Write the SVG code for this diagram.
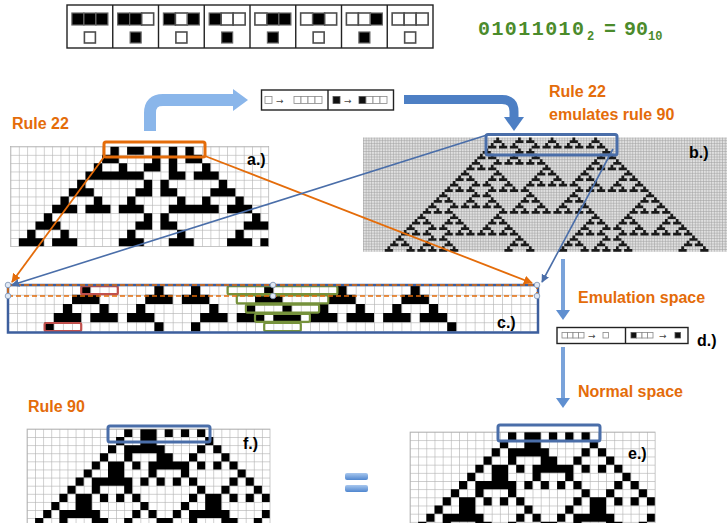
<svg xmlns="http://www.w3.org/2000/svg" width="727" height="523" viewBox="0 0 727 523">
<style>
.lbl{font-family:"Liberation Sans",Arial,sans-serif;font-weight:bold;font-size:16px;fill:#000}
.or{font-family:"Liberation Sans",Arial,sans-serif;font-weight:bold;font-size:16px;fill:#e46c0a}
.bin{font-family:"Liberation Mono","Courier New",monospace;font-weight:bold;fill:#4b8b2b}
.sw{fill:#fff;stroke:#4d4d4d;stroke-width:1.6}
.sb{fill:#000;stroke:#666;stroke-width:1.2}
.ms{fill:#fff;stroke:#888;stroke-width:.8}
.mk{fill:#111;stroke:#555;stroke-width:.8}
.arr{font-family:"DejaVu Sans",sans-serif;font-size:9px;fill:#444}
.frame{fill:#fff;stroke:#222;stroke-width:1.4}
.cell{fill:#000}
.gl{fill:none;stroke:#b3b3b3;stroke-width:.7}
.bbox{fill:none;stroke:#4a6ea9;stroke-width:3}
.grn{fill:none;stroke:#76923c;stroke-width:2.2}
.red{fill:none;stroke:#c0504d;stroke-width:2.2}
.hd{fill:#dfe8f5;stroke:#7a8fb0;stroke-width:.8}
</style>
<defs>
<pattern id="pa" patternUnits="userSpaceOnUse" x="10.5" y="146.5" width="8.33" height="8.33"><rect width="8.33" height="8.33" fill="#fff"/><path d="M0 .35H8.33M.35 0V8.33" stroke="#b3b3b3" stroke-width=".7"/></pattern>
<pattern id="pb" patternUnits="userSpaceOnUse" x="363" y="137.5" width="2.72" height="2.72"><rect width="2.72" height="2.72" fill="#e0e0e0"/><path d="M0 .3H2.72M.3 0V2.72" stroke="#a0a0a0" stroke-width=".6"/></pattern>
<pattern id="pc" patternUnits="userSpaceOnUse" x="8" y="285.5" width="9.15" height="9.2"><rect width="9.15" height="9.2" fill="#fff"/><path d="M0 .35H9.15M.35 0V9.2" stroke="#b3b3b3" stroke-width=".7"/></pattern>
<pattern id="pf" patternUnits="userSpaceOnUse" x="27" y="429" width="8.1" height="8.1"><rect width="8.1" height="8.1" fill="#fff"/><path d="M0 .35H8.1M.35 0V8.1" stroke="#b3b3b3" stroke-width=".7"/></pattern>
<pattern id="pe" patternUnits="userSpaceOnUse" x="410" y="432" width="8.17" height="8.17"><rect width="8.17" height="8.17" fill="#fff"/><path d="M0 .35H8.17M.35 0V8.17" stroke="#b3b3b3" stroke-width=".7"/></pattern>
<path id="g" d="M0 0h1v1h1v1h-3v-1h1z"/>
<path id="r90" d="M12 0h1v1h-1zM14 0h2v1h-2zM17 0h1v1h-1zM19 0h1v1h-1zM21 0h1v1h-1zM11 1h1v1h-1zM14 1h2v1h-2zM22 1h1v1h-1zM10 2h1v1h-1zM12 2h5v1h-5zM21 2h1v1h-1zM23 2h1v1h-1zM9 3h1v1h-1zM12 3h1v1h-1zM16 3h2v1h-2zM20 3h1v1h-1zM24 3h1v1h-1zM8 4h1v1h-1zM10 4h2v1h-2zM13 4h1v1h-1zM15 4h5v1h-5zM21 4h1v1h-1zM23 4h1v1h-1zM25 4h1v1h-1zM7 5h1v1h-1zM10 5h2v1h-2zM15 5h1v1h-1zM19 5h1v1h-1zM26 5h1v1h-1zM6 6h1v1h-1zM8 6h5v1h-5zM14 6h1v1h-1zM16 6h1v1h-1zM18 6h1v1h-1zM20 6h1v1h-1zM25 6h1v1h-1zM27 6h1v1h-1zM5 7h1v1h-1zM8 7h1v1h-1zM12 7h1v1h-1zM21 7h1v1h-1zM24 7h1v1h-1zM28 7h1v1h-1zM4 8h1v1h-1zM6 8h2v1h-2zM9 8h1v1h-1zM11 8h1v1h-1zM13 8h1v1h-1zM20 8h1v1h-1zM22 8h2v1h-2zM25 8h1v1h-1zM27 8h1v1h-1zM29 8h1v1h-1zM3 9h1v1h-1zM6 9h2v1h-2zM14 9h1v1h-1zM19 9h1v1h-1zM22 9h2v1h-2zM2 10h1v1h-1zM4 10h5v1h-5zM13 10h1v1h-1zM15 10h1v1h-1zM18 10h1v1h-1zM20 10h5v1h-5zM29 10h1v1h-1zM1 11h1v1h-1zM4 11h1v1h-1zM8 11h2v1h-2zM12 11h1v1h-1zM16 11h2v1h-2zM20 11h1v1h-1zM24 11h2v1h-2zM28 11h1v1h-1z"/>
<marker id="mo" viewBox="0 0 10 10" refX="9" refY="5" markerWidth="5" markerHeight="5" orient="auto"><path d="M0 0L10 5L0 10z" fill="#e46c0a"/></marker>
<marker id="mb" viewBox="0 0 10 10" refX="9" refY="5" markerWidth="5" markerHeight="5" orient="auto"><path d="M0 0L10 5L0 10z" fill="#4a6ea9"/></marker>
<linearGradient id="eqg" x1="0" y1="0" x2="0" y2="1"><stop offset="0" stop-color="#a8c7ee"/><stop offset="1" stop-color="#4f86cf"/></linearGradient>
</defs>

<g id="rule-table">
<rect class="frame" x="67" y="5" width="366" height="43"/>
<path d="M112.75 5V48M158.5 5V48M204.25 5V48M250 5V48M295.75 5V48M341.5 5V48M387.25 5V48" stroke="#222" stroke-width="1.4"/>
<g transform="translate(67,0)"><rect class="sb" x="4.9" y="13" width="12" height="12"/><rect class="sb" x="16.9" y="13" width="12" height="12"/><rect class="sb" x="28.9" y="13" width="12" height="12"/><rect class="sw" x="17.4" y="32" width="11" height="11"/></g>
<g transform="translate(112.75,0)"><rect class="sb" x="4.9" y="13" width="12" height="12"/><rect class="sb" x="16.9" y="13" width="12" height="12"/><rect class="sw" x="28.9" y="13" width="12" height="12"/><rect class="sb" x="17.4" y="32" width="11" height="11"/></g>
<g transform="translate(158.5,0)"><rect class="sb" x="4.9" y="13" width="12" height="12"/><rect class="sw" x="16.9" y="13" width="12" height="12"/><rect class="sb" x="28.9" y="13" width="12" height="12"/><rect class="sw" x="17.4" y="32" width="11" height="11"/></g>
<g transform="translate(204.25,0)"><rect class="sb" x="4.9" y="13" width="12" height="12"/><rect class="sw" x="16.9" y="13" width="12" height="12"/><rect class="sw" x="28.9" y="13" width="12" height="12"/><rect class="sb" x="17.4" y="32" width="11" height="11"/></g>
<g transform="translate(250,0)"><rect class="sw" x="4.9" y="13" width="12" height="12"/><rect class="sb" x="16.9" y="13" width="12" height="12"/><rect class="sb" x="28.9" y="13" width="12" height="12"/><rect class="sb" x="17.4" y="32" width="11" height="11"/></g>
<g transform="translate(295.75,0)"><rect class="sw" x="4.9" y="13" width="12" height="12"/><rect class="sb" x="16.9" y="13" width="12" height="12"/><rect class="sw" x="28.9" y="13" width="12" height="12"/><rect class="sw" x="17.4" y="32" width="11" height="11"/></g>
<g transform="translate(341.5,0)"><rect class="sw" x="4.9" y="13" width="12" height="12"/><rect class="sw" x="16.9" y="13" width="12" height="12"/><rect class="sb" x="28.9" y="13" width="12" height="12"/><rect class="sb" x="17.4" y="32" width="11" height="11"/></g>
<g transform="translate(387.25,0)"><rect class="sw" x="4.9" y="13" width="12" height="12"/><rect class="sw" x="16.9" y="13" width="12" height="12"/><rect class="sw" x="28.9" y="13" width="12" height="12"/><rect class="sw" x="17.4" y="32" width="11" height="11"/></g>
</g>

<g id="binary-label">
<text class="bin" x="478" y="35" font-size="20" textLength="106" lengthAdjust="spacing">01011010</text>
<text class="bin" x="587" y="40" font-size="12">2</text>
<text class="bin" x="604" y="35" font-size="20">=</text>
<text class="bin" x="624" y="35" font-size="20">90</text>
<text class="bin" x="648" y="40" font-size="12">10</text>
</g>

<g id="titles">
<text class="or" x="12" y="129">Rule 22</text>
<text class="or" x="549" y="97">Rule 22</text>
<text class="or" x="549" y="120">emulates rule 90</text>
<text class="or" x="28" y="412">Rule 90</text>
<text class="or" x="578" y="303">Emulation space</text>
<text class="or" x="578" y="397">Normal space</text>
</g>

<g id="grid-a">
<rect x="10.5" y="146.5" width="258.23" height="99.96" fill="url(#pa)"/>
<path transform="translate(10.5,146.5) scale(8.33)" class="cell" d="M12 0h1v1h-1zM14 0h2v1h-2zM17 0h1v1h-1zM19 0h1v1h-1zM21 0h1v1h-1zM11 1h2v1h-2zM17 1h1v1h-1zM19 1h1v1h-1zM21 1h2v1h-2zM10 2h1v1h-1zM13 2h1v1h-1zM16 2h2v1h-2zM19 2h1v1h-1zM23 2h1v1h-1zM9 3h7v1h-7zM19 3h2v1h-2zM22 3h3v1h-3zM8 4h1v1h-1zM16 4h1v1h-1zM18 4h1v1h-1zM25 4h1v1h-1zM7 5h3v1h-3zM15 5h2v1h-2zM18 5h2v1h-2zM24 5h3v1h-3zM6 6h1v1h-1zM10 6h1v1h-1zM14 6h1v1h-1zM20 6h1v1h-1zM23 6h1v1h-1zM27 6h1v1h-1zM5 7h3v1h-3zM9 7h3v1h-3zM13 7h3v1h-3zM19 7h6v1h-6zM26 7h3v1h-3zM4 8h1v1h-1zM16 8h1v1h-1zM18 8h1v1h-1zM29 8h1v1h-1zM3 9h3v1h-3zM15 9h2v1h-2zM18 9h2v1h-2zM28 9h3v1h-3zM2 10h1v1h-1zM6 10h1v1h-1zM14 10h1v1h-1zM20 10h1v1h-1zM27 10h1v1h-1zM1 11h3v1h-3zM5 11h3v1h-3zM13 11h3v1h-3zM19 11h3v1h-3zM26 11h3v1h-3zM30 11h1v1h-1z"/>
<rect class="gl" x="10.5" y="146.5" width="258.23" height="99.96"/>
<rect x="104" y="142" width="101" height="15" rx="2" fill="none" stroke="#e46c0a" stroke-width="3"/>
<text class="lbl" x="247" y="165">a.)</text>
</g>

<g id="grid-b">
<rect x="363" y="137.5" width="364" height="114.24" fill="url(#pb)"/>
<g transform="translate(363,137.5) scale(2.72)" fill="#1a1a1a">
<g><use href="#g" x="49"/><use href="#g" x="57"/><use href="#g" x="61"/><use href="#g" x="69"/><use href="#g" x="77"/><use href="#g" x="85"/></g>
<g transform="translate(0,2)"><use href="#g" x="47"/><use href="#g" x="51"/><use href="#g" x="55"/><use href="#g" x="63"/><use href="#g" x="67"/><use href="#g" x="71"/><use href="#g" x="75"/><use href="#g" x="79"/><use href="#g" x="83"/><use href="#g" x="87"/></g>
<g transform="translate(0,4)"><use href="#g" x="45"/><use href="#g" x="57"/><use href="#g" x="61"/><use href="#g" x="89"/></g>
<g transform="translate(0,6)"><use href="#g" x="43"/><use href="#g" x="47"/><use href="#g" x="55"/><use href="#g" x="63"/><use href="#g" x="87"/><use href="#g" x="91"/></g>
<g transform="translate(0,8)"><use href="#g" x="41"/><use href="#g" x="49"/><use href="#g" x="53"/><use href="#g" x="57"/><use href="#g" x="61"/><use href="#g" x="65"/><use href="#g" x="85"/><use href="#g" x="93"/></g>
<g transform="translate(0,10)"><use href="#g" x="39"/><use href="#g" x="43"/><use href="#g" x="47"/><use href="#g" x="67"/><use href="#g" x="83"/><use href="#g" x="87"/><use href="#g" x="91"/><use href="#g" x="95"/></g>
<g transform="translate(0,12)"><use href="#g" x="37"/><use href="#g" x="49"/><use href="#g" x="65"/><use href="#g" x="69"/><use href="#g" x="81"/><use href="#g" x="97"/></g>
<g transform="translate(0,14)"><use href="#g" x="35"/><use href="#g" x="39"/><use href="#g" x="47"/><use href="#g" x="51"/><use href="#g" x="63"/><use href="#g" x="71"/><use href="#g" x="79"/><use href="#g" x="83"/><use href="#g" x="95"/><use href="#g" x="99"/></g>
<g transform="translate(0,16)"><use href="#g" x="33"/><use href="#g" x="41"/><use href="#g" x="45"/><use href="#g" x="53"/><use href="#g" x="61"/><use href="#g" x="65"/><use href="#g" x="69"/><use href="#g" x="73"/><use href="#g" x="77"/><use href="#g" x="85"/><use href="#g" x="93"/><use href="#g" x="101"/></g>
<g transform="translate(0,18)"><use href="#g" x="31"/><use href="#g" x="35"/><use href="#g" x="39"/><use href="#g" x="47"/><use href="#g" x="51"/><use href="#g" x="55"/><use href="#g" x="59"/><use href="#g" x="79"/><use href="#g" x="83"/><use href="#g" x="87"/><use href="#g" x="91"/><use href="#g" x="95"/><use href="#g" x="99"/><use href="#g" x="103"/></g>
<g transform="translate(0,20)"><use href="#g" x="29"/><use href="#g" x="41"/><use href="#g" x="45"/><use href="#g" x="61"/><use href="#g" x="77"/><use href="#g" x="105"/></g>
<g transform="translate(0,22)"><use href="#g" x="27"/><use href="#g" x="31"/><use href="#g" x="39"/><use href="#g" x="47"/><use href="#g" x="59"/><use href="#g" x="63"/><use href="#g" x="75"/><use href="#g" x="79"/><use href="#g" x="103"/><use href="#g" x="107"/></g>
<g transform="translate(0,24)"><use href="#g" x="25"/><use href="#g" x="33"/><use href="#g" x="37"/><use href="#g" x="41"/><use href="#g" x="45"/><use href="#g" x="49"/><use href="#g" x="57"/><use href="#g" x="65"/><use href="#g" x="73"/><use href="#g" x="81"/><use href="#g" x="101"/><use href="#g" x="109"/></g>
<g transform="translate(0,26)"><use href="#g" x="23"/><use href="#g" x="27"/><use href="#g" x="31"/><use href="#g" x="51"/><use href="#g" x="55"/><use href="#g" x="59"/><use href="#g" x="63"/><use href="#g" x="67"/><use href="#g" x="71"/><use href="#g" x="75"/><use href="#g" x="79"/><use href="#g" x="83"/><use href="#g" x="99"/><use href="#g" x="103"/><use href="#g" x="107"/><use href="#g" x="111"/></g>
<g transform="translate(0,28)"><use href="#g" x="21"/><use href="#g" x="33"/><use href="#g" x="49"/><use href="#g" x="85"/><use href="#g" x="97"/><use href="#g" x="113"/></g>
<g transform="translate(0,30)"><use href="#g" x="19"/><use href="#g" x="23"/><use href="#g" x="31"/><use href="#g" x="35"/><use href="#g" x="47"/><use href="#g" x="51"/><use href="#g" x="83"/><use href="#g" x="87"/><use href="#g" x="95"/><use href="#g" x="99"/><use href="#g" x="111"/><use href="#g" x="115"/></g>
<g transform="translate(0,32)"><use href="#g" x="17"/><use href="#g" x="25"/><use href="#g" x="29"/><use href="#g" x="37"/><use href="#g" x="45"/><use href="#g" x="53"/><use href="#g" x="81"/><use href="#g" x="89"/><use href="#g" x="93"/><use href="#g" x="101"/><use href="#g" x="109"/><use href="#g" x="117"/></g>
<g transform="translate(0,34)"><use href="#g" x="15"/><use href="#g" x="19"/><use href="#g" x="23"/><use href="#g" x="31"/><use href="#g" x="35"/><use href="#g" x="39"/><use href="#g" x="43"/><use href="#g" x="47"/><use href="#g" x="51"/><use href="#g" x="55"/><use href="#g" x="79"/><use href="#g" x="83"/><use href="#g" x="87"/><use href="#g" x="95"/><use href="#g" x="99"/><use href="#g" x="103"/><use href="#g" x="107"/><use href="#g" x="111"/><use href="#g" x="115"/><use href="#g" x="119"/></g>
<g transform="translate(0,36)"><use href="#g" x="13"/><use href="#g" x="25"/><use href="#g" x="29"/><use href="#g" x="57"/><use href="#g" x="77"/><use href="#g" x="89"/><use href="#g" x="93"/><use href="#g" x="121"/></g>
<g transform="translate(0,38)"><use href="#g" x="11"/><use href="#g" x="15"/><use href="#g" x="23"/><use href="#g" x="31"/><use href="#g" x="55"/><use href="#g" x="59"/><use href="#g" x="75"/><use href="#g" x="79"/><use href="#g" x="87"/><use href="#g" x="95"/><use href="#g" x="119"/><use href="#g" x="123"/></g>
<g transform="translate(0,40)"><use href="#g" x="9"/><use href="#g" x="17"/><use href="#g" x="21"/><use href="#g" x="25"/><use href="#g" x="29"/><use href="#g" x="33"/><use href="#g" x="53"/><use href="#g" x="61"/><use href="#g" x="73"/><use href="#g" x="81"/><use href="#g" x="85"/><use href="#g" x="89"/><use href="#g" x="93"/><use href="#g" x="97"/><use href="#g" x="117"/><use href="#g" x="125"/></g>
</g>
<rect x="486" y="134.5" width="131" height="20.5" rx="2" class="bbox"/>
<text class="lbl" x="689" y="158">b.)</text>
</g>

<g id="map-encode">
<rect class="frame" x="261.5" y="90" width="132" height="20"/>
<line x1="328" y1="90" x2="328" y2="110" stroke="#222" stroke-width="1.4"/>
<rect class="ms" x="265" y="96.5" width="7" height="7"/>
<text class="arr" x="276" y="103.5">→</text>
<rect class="ms" x="294" y="96.5" width="7" height="7"/><rect class="ms" x="301" y="96.5" width="7" height="7"/><rect class="ms" x="308" y="96.5" width="7" height="7"/><rect class="ms" x="315" y="96.5" width="7" height="7"/>
<rect class="mk" x="333" y="96.5" width="7" height="7"/>
<text class="arr" x="344" y="103.5">→</text>
<rect class="mk" x="359" y="96.5" width="7" height="7"/><rect class="ms" x="366" y="96.5" width="7" height="7"/><rect class="ms" x="373" y="96.5" width="7" height="7"/><rect class="ms" x="380" y="96.5" width="7" height="7"/>
</g>

<g id="grid-c">
<rect x="8" y="285.5" width="530.7" height="46" fill="url(#pc)"/>
<path transform="translate(8,285.5) scale(9.15,9.2)" class="cell" d="M8 0h1v1h-1zM16 0h1v1h-1zM20 0h1v1h-1zM28 0h1v1h-1zM36 0h1v1h-1zM44 0h1v1h-1zM7 1h3v1h-3zM15 1h3v1h-3zM19 1h3v1h-3zM27 1h3v1h-3zM35 1h3v1h-3zM43 1h3v1h-3zM6 2h1v1h-1zM10 2h1v1h-1zM14 2h1v1h-1zM22 2h1v1h-1zM26 2h1v1h-1zM30 2h1v1h-1zM34 2h1v1h-1zM38 2h1v1h-1zM42 2h1v1h-1zM46 2h1v1h-1zM5 3h3v1h-3zM9 3h3v1h-3zM13 3h3v1h-3zM21 3h3v1h-3zM25 3h3v1h-3zM29 3h3v1h-3zM33 3h3v1h-3zM37 3h3v1h-3zM41 3h3v1h-3zM45 3h3v1h-3zM4 4h1v1h-1zM16 4h1v1h-1zM20 4h1v1h-1zM48 4h1v1h-1z"/>
<rect class="grn" x="227.6" y="286.2" width="109.8" height="8" rx="1.5"/>
<rect class="grn" x="236.8" y="295.4" width="91.5" height="8" rx="1.5"/>
<rect class="grn" x="245.9" y="304.6" width="73.2" height="8" rx="1.5"/>
<rect class="grn" x="255" y="313.8" width="54.9" height="8" rx="1.5"/>
<rect class="grn" x="264.2" y="323" width="36.6" height="8" rx="1.5"/>
<rect class="red" x="81.2" y="286.2" width="36.6" height="8" rx="1.5"/>
<rect class="red" x="44.6" y="323" width="36.6" height="8" rx="1.5"/>
<rect x="8" y="285" width="530" height="47.5" fill="none" stroke="#3d5f9e" stroke-width="2.5"/>
<rect x="8" y="285" width="529" height="11" fill="none" stroke="#e46c0a" stroke-width="1.6" stroke-dasharray="5 3"/>
<circle class="hd" cx="8" cy="285" r="2.8"/><circle class="hd" cx="8" cy="296" r="2.8"/><circle class="hd" cx="273" cy="285" r="2.8"/><circle class="hd" cx="273" cy="296" r="2.8"/><circle class="hd" cx="537" cy="285" r="2.8"/><circle class="hd" cx="537" cy="296" r="2.8"/>
<text class="lbl" x="497" y="328">c.)</text>
</g>

<g id="map-decode">
<rect class="frame" x="557" y="327.5" width="131" height="16"/>
<line x1="625.5" y1="327.5" x2="625.5" y2="343.5" stroke="#222" stroke-width="1.4"/>
<rect class="ms" x="562" y="332.5" width="5.5" height="5.5"/><rect class="ms" x="567.5" y="332.5" width="5.5" height="5.5"/><rect class="ms" x="573" y="332.5" width="5.5" height="5.5"/><rect class="ms" x="578.5" y="332.5" width="5.5" height="5.5"/>
<text class="arr" x="588" y="339">→</text>
<rect class="ms" x="603" y="332.5" width="5.5" height="5.5"/>
<rect class="mk" x="631" y="332.5" width="5.5" height="5.5"/><rect class="ms" x="636.5" y="332.5" width="5.5" height="5.5"/><rect class="ms" x="642" y="332.5" width="5.5" height="5.5"/><rect class="ms" x="647.5" y="332.5" width="5.5" height="5.5"/>
<text class="arr" x="659" y="339">→</text>
<rect class="mk" x="675" y="332.5" width="5.5" height="5.5"/>
<text class="lbl" x="697" y="346">d.)</text>
</g>

<g id="grid-f">
<rect x="27" y="429" width="243" height="97.2" fill="url(#pf)"/>
<use href="#r90" transform="translate(27,429) scale(8.1)" class="cell"/>
<rect class="gl" x="27" y="429" width="243" height="97.2"/>
<rect x="108" y="426" width="102" height="16" rx="2" class="bbox"/>
<text class="lbl" x="243" y="449">f.)</text>
</g>

<g id="grid-e">
<rect x="410" y="432" width="245.1" height="98" fill="url(#pe)"/>
<use href="#r90" transform="translate(410,432) scale(8.17)" class="cell"/>
<rect class="gl" x="410" y="432" width="245.1" height="98"/>
<rect x="498" y="425" width="102" height="16" rx="2" class="bbox"/>
<text class="lbl" x="628" y="459">e.)</text>
</g>

<g id="equals">
<rect x="345" y="473" width="23" height="7" rx="2" fill="url(#eqg)"/>
<rect x="345" y="485" width="23" height="7" rx="2" fill="url(#eqg)"/>
</g>

<g id="connectors">
<path d="M104 157L12 282" fill="none" stroke="#e46c0a" stroke-width="1.8" marker-end="url(#mo)"/>
<path d="M205 156L532 283" fill="none" stroke="#e46c0a" stroke-width="1.8" marker-end="url(#mo)"/>
<path d="M487 135L12 285" fill="none" stroke="#4a6ea9" stroke-width="1.6" marker-end="url(#mb)"/>
<path d="M613 149L542 282" fill="none" stroke="#4a6ea9" stroke-width="1.6" marker-end="url(#mb)"/>
<path d="M150 131V113Q150 100 163 100H234" fill="none" stroke="#8ab6ea" stroke-width="12"/>
<path d="M233 89L248 100L233 111z" fill="#8ab6ea"/>
<path d="M404 99.5H502Q514 99.5 514 111.5V118" fill="none" stroke="#4d7fc4" stroke-width="9"/>
<path d="M504 117H524L514 131z" fill="#4d7fc4"/>
<path d="M563 259V311" stroke="#7aa3da" stroke-width="4"/>
<path d="M556 310h14l-7 10z" fill="#5f8fd0"/>
<path d="M563 347V399" stroke="#7aa3da" stroke-width="4"/>
<path d="M556 398h14l-7 10z" fill="#5f8fd0"/>
</g>
</svg>
